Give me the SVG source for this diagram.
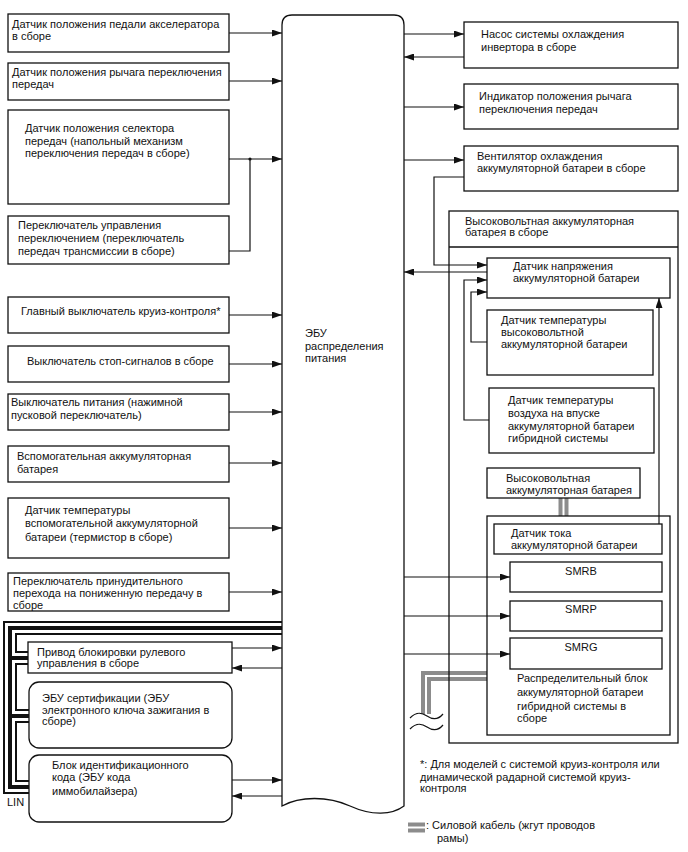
<svg xmlns="http://www.w3.org/2000/svg" width="688" height="852" viewBox="0 0 688 852">
<defs>
<marker id="ah" markerUnits="userSpaceOnUse" markerWidth="10" markerHeight="7" refX="10" refY="3.5" orient="auto">
<path d="M0,0 L10,3.5 L0,7 z" fill="#111"/>
</marker>
<style>
text{font-family:"Liberation Sans",Arial,sans-serif;font-size:11px;fill:#111}
.box{fill:#fff;stroke:#111;stroke-width:1.3}
.ln{fill:none;stroke:#111;stroke-width:1.2}
.ar{fill:none;stroke:#111;stroke-width:1.2;marker-end:url(#ah)}
.c1{fill:none;stroke:#111;stroke-width:14;stroke-linejoin:miter}
.c2{fill:none;stroke:#fff;stroke-width:10;stroke-linejoin:miter}
.c3{fill:none;stroke:#111;stroke-width:4;stroke-linejoin:miter}
.p1{fill:none;stroke:#8c8c8c;stroke-width:10}
.p2{fill:none;stroke:#fff;stroke-width:2}
</style>
</defs>
<rect width="688" height="852" fill="#fff"/>

<g id="connectors">
<path class="c1" d="M282,628 H10 V787 H29 M10,658 H29 M10,716 H29"/>
<path class="c2" d="M282,628 H10 V787 H29 M10,658 H29 M10,716 H29"/>
<path class="c3" d="M282,628 H10 V787 H29 M10,658 H29 M10,716 H29"/>
<path class="ar" d="M229,33 H282"/>
<path class="ar" d="M229,81 H282"/>
<path class="ar" d="M229,159 H282"/>
<path class="ln" d="M229,251 H250 V159"/>
<circle cx="250" cy="159" r="1.6" fill="#111"/>
<path class="ar" d="M229,315 H282"/>
<path class="ar" d="M229,364 H282"/>
<path class="ar" d="M229,412 H282"/>
<path class="ar" d="M229,463 H282"/>
<path class="ar" d="M229,528 H282"/>
<path class="ar" d="M229,592 H282"/>
<path class="ar" d="M232,648 H282"/>
<path class="ar" d="M282,668 H232"/>
<path class="ar" d="M232,780 H282"/>
<path class="ar" d="M282,796 H232"/>
<path class="ar" d="M404,34 H464"/>
<path class="ar" d="M464,57 H404"/>
<path class="ar" d="M404,107 H464"/>
<path class="ar" d="M404,160 H464"/>
<path class="ar" d="M464,177 H434 V265 H487"/>
<path class="ar" d="M487,272 H404"/>
<path class="ar" d="M489,420 H464 V280 H487"/>
<path class="ar" d="M487,342 H471 V292 H487"/>
<path class="ar" d="M659,524 V298"/>
<path class="ar" d="M404,577 H510"/>
<path class="ar" d="M404,616 H510"/>
<path class="ar" d="M404,654 H510"/>
<path class="p1" d="M563.5,498 V516"/>
<path class="p2" d="M563.5,498 V516"/>
<path class="p1" d="M487,676 H426 V714"/>
<path class="p2" d="M487,676 H426 V714"/>
<path class="ln" d="M410,718 C416,712 421,712 427,716 S438,720 443,714"/>
<path class="ln" d="M410,729 C416,723 421,723 427,727 S438,731 443,725"/>
</g>

<g id="ecu">
<path class="box" d="M282,806 V25 Q282,15 292,15 H394 Q404,15 404,25 V806 C392,815 372,816 350,806 S300,796 282,806 Z"/>
<text x="305" y="337">ЭБУ</text>
<text x="305" y="350">распределения</text>
<text x="305" y="362">питания</text>
</g>

<g id="n1"><rect class="box" x="8" y="14" width="221" height="38"/>
<text x="12" y="28">Датчик положения педали акселератора</text><text x="12" y="40">в сборе</text></g>
<g id="n2"><rect class="box" x="8" y="63" width="221" height="37"/>
<text x="12" y="76">Датчик положения рычага переключения</text><text x="12" y="88">передач</text></g>
<g id="n3"><rect class="box" x="8" y="110" width="221" height="94"/>
<text x="25" y="132">Датчик положения селектора</text><text x="25" y="145">передач (напольный механизм</text><text x="25" y="157">переключения передач в сборе)</text></g>
<g id="n4"><rect class="box" x="8" y="216" width="221" height="48"/>
<text x="18" y="229">Переключатель управления</text><text x="18" y="242">переключением (переключатель</text><text x="18" y="255">передач трансмиссии в сборе)</text></g>
<g id="n5"><rect class="box" x="8" y="297" width="221" height="36"/>
<text x="21" y="315">Главный выключатель круиз-контроля*</text></g>
<g id="n6"><rect class="box" x="8" y="346" width="221" height="36"/>
<text x="27" y="365">Выключатель стоп-сигналов в сборе</text></g>
<g id="n7"><rect class="box" x="8" y="394" width="221" height="36"/>
<text x="11" y="406">Выключатель питания (нажимной</text><text x="11" y="419">пусковой переключатель)</text></g>
<g id="n8"><rect class="box" x="8" y="446" width="221" height="36"/>
<text x="17" y="460">Вспомогательная аккумуляторная</text><text x="17" y="473">батарея</text></g>
<g id="n9"><rect class="box" x="8" y="498" width="221" height="60"/>
<text x="25" y="514">Датчик температуры</text><text x="25" y="527">вспомогательной аккумуляторной</text><text x="25" y="541">батареи (термистор в сборе)</text></g>
<g id="n10"><rect class="box" x="8" y="573" width="221" height="38"/>
<text x="13" y="585">Переключатель принудительного</text><text x="13" y="597">перехода на пониженную передачу в</text><text x="13" y="609">сборе</text></g>

<g id="n11"><rect class="box" x="28" y="642" width="204" height="31"/>
<text x="37" y="655.5">Привод блокировки рулевого</text><text x="37" y="667">управления в сборе</text></g>
<g id="n12"><rect class="box" x="29" y="682" width="203" height="66" rx="10"/>
<text x="42" y="702">ЭБУ сертификации (ЭБУ</text><text x="42" y="713.5">электронного ключа зажигания в</text><text x="42" y="725">сборе)</text></g>
<g id="n13"><rect class="box" x="29" y="755" width="203" height="67" rx="10"/>
<text x="52" y="769">Блок идентификационного</text><text x="52" y="781">кода (ЭБУ кода</text><text x="52" y="795">иммобилайзера)</text></g>
<text x="7" y="806">LIN</text>

<g id="r1"><rect class="box" x="464" y="22" width="214" height="46"/>
<text x="481" y="38">Насос системы охлаждения</text><text x="481" y="51">инвертора в сборе</text></g>
<g id="r2"><rect class="box" x="464" y="84" width="214" height="45"/>
<text x="479" y="100">Индикатор положения рычага</text><text x="479" y="113">переключения передач</text></g>
<g id="r3"><rect class="box" x="464" y="146" width="214" height="45"/>
<text x="477" y="160">Вентилятор охлаждения</text><text x="477" y="172">аккумуляторной батареи в сборе</text></g>

<g id="hvpack"><rect x="449" y="211" width="229" height="532" fill="none" stroke="#111" stroke-width="1.3"/>
<line x1="449" y1="247" x2="678" y2="247" stroke="#111" stroke-width="1.3"/>
<text x="465" y="225">Высоковольтная аккумуляторная</text><text x="465" y="236">батарея в сборе</text></g>
<g id="vsens"><rect class="box" x="487" y="258" width="183" height="40"/>
<text x="513" y="270">Датчик напряжения</text><text x="513" y="282">аккумуляторной батареи</text></g>
<g id="tsens"><rect class="box" x="487" y="310" width="166" height="65"/>
<text x="501" y="324">Датчик температуры</text><text x="501" y="336">высоковольтной</text><text x="501" y="348">аккумуляторной батареи</text></g>
<g id="asens"><rect class="box" x="489" y="388" width="165" height="65"/>
<text x="508" y="404">Датчик температуры</text><text x="508" y="417">воздуха на впуске</text><text x="508" y="430">аккумуляторной батареи</text><text x="508" y="442">гибридной системы</text></g>
<g id="hvbat"><rect class="box" x="487" y="468" width="153" height="30"/>
<text x="506" y="482">Высоковольтная</text><text x="506" y="494">аккумуляторная батарея</text></g>
<g id="junction"><rect x="487" y="516" width="183" height="219" fill="none" stroke="#111" stroke-width="1.3"/>
<text x="517" y="682">Распределительный блок</text><text x="517" y="696">аккумуляторной батареи</text><text x="517" y="710">гибридной системы в</text><text x="517" y="722">сборе</text></g>
<g id="csens"><rect class="box" x="494" y="524" width="168" height="30"/>
<text x="511" y="537">Датчик тока</text><text x="511" y="549">аккумуляторной батареи</text></g>
<g id="smrb"><rect class="box" x="510" y="562" width="152" height="30"/><text x="581" y="575" text-anchor="middle">SMRB</text></g>
<g id="smrp"><rect class="box" x="510" y="601" width="152" height="30"/><text x="581" y="613" text-anchor="middle">SMRP</text></g>
<g id="smrg"><rect class="box" x="510" y="638" width="152" height="31"/><text x="581" y="651" text-anchor="middle">SMRG</text></g>

<g id="notes">
<text x="420" y="768">*: Для моделей с системой круиз-контроля или</text>
<text x="420" y="781">динамической радарной системой круиз-</text>
<text x="420" y="792">контроля</text>
<path class="p1" d="M408,827.5 H425" stroke-width="7"/>
<path class="p2" d="M408,827.5 H425"/>
<text x="426" y="829">: Силовой кабель (жгут проводов</text>
<text x="437" y="842">рамы)</text>
</g>
</svg>
